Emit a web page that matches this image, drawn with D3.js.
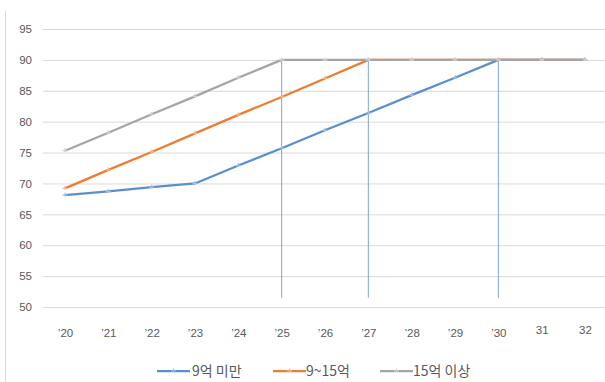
<!DOCTYPE html>
<html>
<head>
<meta charset="utf-8">
<script src="https://cdn.jsdelivr.net/npm/d3@7"></script>
<style>
  html, body { margin: 0; padding: 0; background: #fff; }
  svg { display: block; font-family: "Noto Sans CJK KR", "Noto Sans", sans-serif; }
</style>
</head>
<body>
<svg id="chart" width="605" height="382"></svg>
<script>
// Categories (years) and tick values
const years = ["’20", "’21", "’22", "’23", "’24", "’25", "’26", "’27", "’28", "’29", "’30", "31", "32"];
const yTicks = [50, 55, 60, 65, 70, 75, 80, 85, 90, 95];

// Series values (%)
const under9 = [68.1, 68.7, 69.4, 70.0, 72.9, 75.7, 78.6, 81.4, 84.3, 87.1, 90, 90, 90];
const from9to15 = [69.2, 72.2, 75.1, 78.1, 81.1, 84.0, 87.0, 90, 90, 90, 90, 90, 90];
const over15 = [75.3, 78.2, 81.2, 84.1, 87.1, 90, 90, 90, 90, 90, 90, 90, 90];

// Target years with reference drop lines (top and bottom value)
const targetYears = ["’25", "’27", "’30"];
const dropTop = 90;
const dropBottom = 51.5;

const seriesNames = ["9억 미만", "9~15억", "15억 이상"];
const seriesColors = ["#5b8fcb", "#ed7d31", "#a5a5a5"];
const markerColors = ["#9fbde3", "#f5b48a", "#cfcfcf"];
const seriesValues = [under9, from9to15, over15];

const svg = d3.select("#chart");

const x = d3.scalePoint().domain(years).range([65, 585]);
const y = d3.scaleLinear().domain([50, 95]).range([307, 29]);

// Outer border on the left edge
svg.append("line")
  .attr("x1", 5.5).attr("x2", 5.5)
  .attr("y1", 11).attr("y2", 382)
  .attr("stroke", "#d9d9d9").attr("stroke-width", 1);

// Horizontal gridlines + value labels
const yAxis = svg.append("g")
  .attr("transform", "translate(43,0)")
  .call(d3.axisLeft(y).tickValues(yTicks).tickSize(-600).tickPadding(11).tickFormat(d3.format("d")));
yAxis.select(".domain").remove();
yAxis.selectAll(".tick line").attr("stroke", "#d9d9d9").attr("stroke-width", 1);
yAxis.selectAll(".tick text")
  .attr("fill", "#595959").attr("font-size", 11.5);

// Category labels
const xAxis = svg.append("g")
  .attr("transform", "translate(0,329)")
  .call(d3.axisBottom(x).tickSize(0).tickPadding(0));
xAxis.select(".domain").remove();
xAxis.selectAll(".tick text")
  .attr("fill", "#595959").attr("font-size", 11.5)
  .attr("dy", d => d.startsWith("’") ? "0.71em" : "0.4em");

// Drop lines at target years
svg.append("g").selectAll("line")
  .data(targetYears)
  .join("line")
  .attr("x1", d => x(d)).attr("x2", d => x(d))
  .attr("y1", y(dropTop)).attr("y2", y(dropBottom))
  .attr("stroke", "#7ea6cf").attr("stroke-width", 1);

// Series lines
const line = d3.line()
  .x((d, i) => x(years[i]))
  .y(d => y(d));

seriesValues.forEach((vals, s) => {
  const g = svg.append("g");
  g.append("path")
    .datum(vals)
    .attr("d", line)
    .attr("fill", "none")
    .attr("stroke", seriesColors[s])
    .attr("stroke-width", 2.25)
    .attr("stroke-linejoin", "round");
  // small tick markers
  g.selectAll("path.mk")
    .data(vals)
    .join("path")
    .attr("class", "mk")
    .attr("d", (d, i) => {
      const cx = x(years[i]), cy = y(d);
      return `M${cx - 2.5},${cy}H${cx + 2.5}M${cx},${cy - 2.5}V${cy + 1}`;
    })
    .attr("stroke", markerColors[s])
    .attr("stroke-width", 1.2);
});

// Legend
const legendItems = [
  { x: 157, tx: 192 },
  { x: 273, tx: 306 },
  { x: 380, tx: 413 }
];
const legendY = 371;
const legend = svg.append("g");
seriesNames.forEach((name, s) => {
  const it = legendItems[s];
  legend.append("line")
    .attr("x1", it.x).attr("x2", it.x + 33)
    .attr("y1", legendY).attr("y2", legendY)
    .attr("stroke", seriesColors[s]).attr("stroke-width", 2.25);
  legend.append("path")
    .attr("d", `M${it.x + 14},${legendY}H${it.x + 19}M${it.x + 16.5},${legendY - 2.5}V${legendY + 1}`)
    .attr("stroke", markerColors[s]).attr("stroke-width", 1.2);
  legend.append("text")
    .attr("x", it.tx).attr("y", legendY)
    .attr("dy", "0.36em")
    .attr("fill", "#595959").attr("font-size", 14)
    .text(name);
});
</script>
</body>
</html>
